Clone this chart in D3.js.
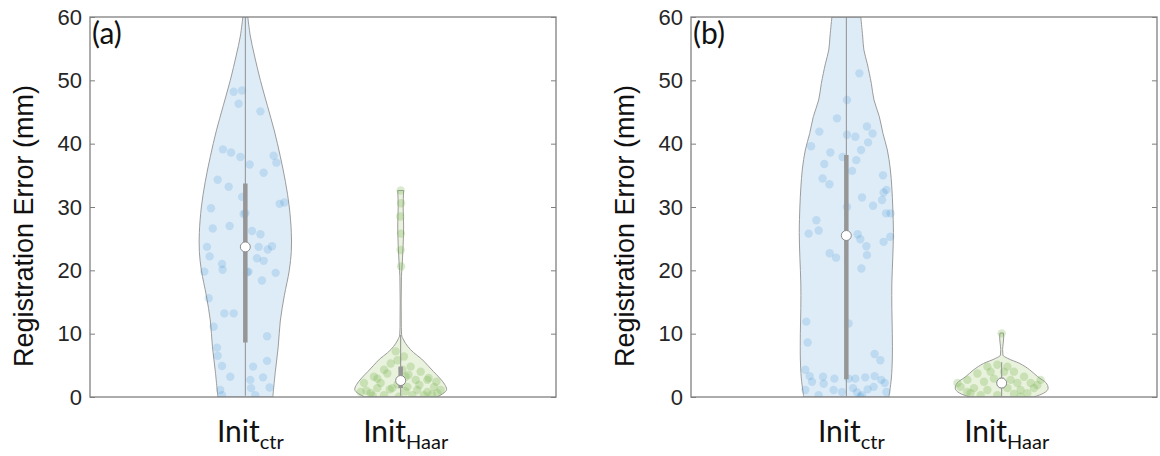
<!DOCTYPE html>
<html>
<head>
<meta charset="utf-8">
<script src="https://cdn.jsdelivr.net/npm/d3@7/dist/d3.min.js"></script>
<style>
  body { margin: 0; background: #fff; }
</style>
</head>
<body>
<div id="chart"></div>
<script>
// 数据：刻度、类别
const yTicks = [0, 10, 20, 30, 40, 50, 60];
const groupNames = ["ctr", "Haar"];
const panelLabels = ["(a)", "(b)"];

// 小提琴轮廓：[误差值 mm, 半宽 (类别单位)]
const aCtrShape = [[0,0.177],[4,0.193],[8,0.212],[12,0.225],[16,0.251],[20,0.283],[23,0.296],[26,0.296],[30,0.283],[34,0.258],[38,0.225],[42,0.187],[46,0.142],[50,0.097],[54,0.058],[57,0.032],[60,0.016]];
const aHaarShape = [[0,0.232],[0.5,0.270],[1.2,0.296],[2,0.283],[3,0.251],[4,0.212],[5,0.174],[6,0.135],[7,0.084],[8,0.045],[9,0.019],[9.8,0.006],[11,0.004],[15,0.003],[19,0.005],[21,0.010],[24,0.016],[27,0.019],[30,0.016],[32.6,0.019]];
const bCtrShape = [[0,0.274],[1,0.280],[3,0.290],[6,0.296],[10,0.296],[14,0.293],[18,0.293],[22,0.299],[26,0.303],[30,0.299],[33,0.293],[36,0.283],[39,0.264],[41.6,0.236],[44.3,0.212],[46.9,0.178],[49.5,0.161],[52.6,0.135],[54.8,0.113],[57,0.105],[60,0.093]];
const bHaarShape = [[0,0.206],[0.6,0.270],[1.4,0.299],[2.2,0.287],[3.2,0.232],[4.3,0.180],[5.3,0.116],[6.1,0.039],[6.6,0.008],[7.5,0.006],[8.5,0.010],[9.5,0.013],[10.1,0.011]];

// 箱线统计：[下须, Q1, 中位数, Q3, 上须]
const aCtrBox = [0.2, 8.6, 23.7, 33.7, 60];
const aHaarBox = [0.2, 1.4, 2.6, 4.8, 9.8];
const bCtrBox = [0.1, 2.8, 25.5, 38.2, 60];
const bHaarBox = [0.1, 1.4, 2.2, 3.05, 5.5];

// 散点：[误差值 mm, 横向抖动]
const aCtrPoints = [[48.2,-0.075],[48.4,-0.021],[46.3,-0.043],[45.1,0.097],[39.1,-0.144],[38.6,-0.092],[37.9,-0.032],[36.7,0.028],[35.4,0.118],[38.1,0.182],
  [37.0,0.200],[34.3,-0.178],[33.2,-0.107],[31.6,-0.021],[29.0,0.0],[30.5,0.221],[30.7,0.251],[29.8,-0.221],[26.6,-0.210],[27.0,-0.101],
  [23.7,-0.247],[22.2,-0.230],[21.0,-0.150],[20.1,-0.146],[26.2,0.043],[25.7,0.097],[23.7,0.086],[23.3,0.144],[23.8,0.172],[21.9,0.075],
  [21.5,0.118],[19.8,0.021],[18.4,0.107],[19.6,0.195],[19.8,-0.264],[15.6,-0.236],[13.2,-0.135],[11.1,-0.204],[7.8,-0.182],[6.5,-0.178],
  [4.9,-0.150],[3.2,-0.097],[0.3,-0.150],[1.1,-0.161],[9.6,0.140],[5.7,0.140],[4.8,0.050],[2.7,0.032],[3.1,0.114],[1.4,0.037],
  [0.3,0.064],[1.5,0.156],[19.7,0.011],[28.9,-0.011],[13.2,-0.075]];
const aHaarPoints = [[32.6,0],[30.6,0.003],[28.5,-0.003],[25.8,0.002],[23.2,0],[20.6,0.003],
  [7.2,-0.032],[6.4,0.021],[5.3,-0.064],[4.3,-0.107],[4.8,0.064],[4.0,0.129],[3.2,-0.172],[2.2,-0.236],[2.2,-0.129],[1.4,-0.054],
  [1.6,0.043],[1.1,0.107],[2.7,0.172],[1.6,0.215],[0.6,-0.193],[0.3,-0.107],[0.05,-0.011],[0.3,0.075],[0.3,0.150],[0.6,0.236],
  [1.4,-0.150],[3.2,0.032],[3.7,-0.086],[0.8,0.172],[0.8,-0.258],[1.1,0.258],[4.3,0.011],[2.7,0.097],
  [2.0,-0.02],[3.5,0.05],[1.0,-0.22],[0.4,0.20],[1.9,0.12],[2.9,-0.15],[0.9,0.03],[5.8,-0.02],[2.4,0.23],[1.2,-0.07],[3.0,0.18],[0.2,-0.18]];
const bCtrPoints = [[51.1,0.084],[46.9,0.004],[44.0,-0.060],[41.9,-0.174],[41.4,0.004],[41.1,0.058],[42.7,0.133],[41.6,0.169],[39.6,-0.227],[38.6,-0.103],
  [39.0,0.095],[40.2,0.140],[37.9,-0.024],[36.8,-0.142],[35.7,0.037],[37.4,0.064],[34.5,-0.153],[33.6,-0.109],[35.0,0.236],[32.7,0.258],
  [32.3,0.240],[31.5,0.101],[31.1,0.230],[30.2,0.172],[29.0,0.256],[29.0,0.285],[27.9,-0.193],[25.8,-0.243],[26.3,-0.178],[25.7,0.073],
  [24.9,0.090],[23.8,0.129],[24.5,0.240],[25.3,0.283],[22.7,-0.107],[22.0,-0.066],[22.4,0.133],[20.3,0.097],[30.0,0.004],[11.9,-0.258],
  [11.6,0.015],[8.6,-0.249],[6.8,0.182],[5.8,0.219],[4.3,-0.264],[3.3,-0.236],[2.4,-0.221],[3.2,-0.150],[2.9,-0.077],[2.9,0.015],
  [2.9,0.058],[3.1,0.122],[3.3,0.182],[2.7,0.225],[2.2,0.247],[2.1,-0.146],[1.1,-0.082],[0.8,-0.028],[1.4,0.043],[1.2,0.137],
  [1.6,0.176],[0.8,0.258],[1.1,-0.264],[0.3,-0.178],[0.3,0.101],[0.7,0.069],[0.05,0.090]];
const bHaarPoints = [[10.05,0],[4.8,-0.092],[5.1,-0.028],[4.8,0.037],[3.7,-0.156],[4.0,0.079],[2.7,-0.221],[2.4,-0.114],[2.9,-0.050],[2.7,0.058],
  [3.2,0.144],[2.2,0.187],[1.9,0.230],[1.6,-0.264],[1.4,-0.178],[1.1,-0.092],[1.4,0.037],[1.1,0.122],[1.4,0.208],[0.6,-0.200],
  [0.3,-0.135],[0.3,-0.028],[0.5,0.079],[0.6,0.165],[2.2,-0.285],[4.0,0.015],[4.0,-0.071],[2.2,0.101],[2.7,0.251],[0.8,-0.221],[0.05,0.122]];

const panels = [
  {label: panelLabels[0], left: 90, groups: [
    {name: groupNames[0], shape: aCtrShape, box: aCtrBox, points: aCtrPoints},
    {name: groupNames[1], shape: aHaarShape, box: aHaarBox, points: aHaarPoints}]},
  {label: panelLabels[1], left: 691, groups: [
    {name: groupNames[0], shape: bCtrShape, box: bCtrBox, points: bCtrPoints},
    {name: groupNames[1], shape: bHaarShape, box: bHaarBox, points: bHaarPoints}]}
];

// 颜色
const fills = ["#deecf8", "#e8f2dc"];
const dotColors = ["rgba(0,114,189,0.14)", "rgba(112,173,71,0.26)"];
const edgeColor = "#9c9c9c";

const W = 1160, H = 456;
const plotW = 466, plotTop = 17, plotBottom = 397;

const svg = d3.select("#chart").append("svg")
  .attr("width", W).attr("height", H)
  .style("font-family", "'Liberation Sans', Arial, sans-serif");

svg.append("rect").attr("width", W).attr("height", H).attr("fill", "#fff");

panels.forEach((p, pi) => {
  const x = d3.scaleLinear().domain([0, 3]).range([p.left, p.left + plotW]);
  const y = d3.scaleLinear().domain([0, 60]).range([plotBottom, plotTop]);

  const clipId = "clip" + pi;
  svg.append("clipPath").attr("id", clipId)
    .append("rect")
    .attr("x", p.left).attr("y", plotTop)
    .attr("width", plotW).attr("height", plotBottom - plotTop);

  const g = svg.append("g").attr("clip-path", `url(#${clipId})`);

  p.groups.forEach((grp, gi) => {
    const c = gi + 1;
    // 小提琴（ctr 用平滑曲线，Haar 用单调曲线避免细颈处过冲）
    const area = d3.area()
      .y(d => y(d[0]))
      .x0(d => x(c - d[1]))
      .x1(d => x(c + d[1]))
      .curve(gi === 0 ? d3.curveCatmullRom.alpha(0.5) : d3.curveMonotoneY);
    g.append("path")
      .datum(grp.shape)
      .attr("d", area)
      .attr("fill", fills[gi])
      .attr("stroke", edgeColor)
      .attr("stroke-width", 1);

    // 散点
    g.selectAll(".dot" + gi)
      .data(grp.points)
      .enter().append("circle")
      .attr("cx", d => x(c + d[1]))
      .attr("cy", d => y(d[0]))
      .attr("r", 4.2)
      .attr("fill", dotColors[gi]);

    const b = grp.box;
    // 须线
    g.append("line")
      .attr("x1", x(c)).attr("x2", x(c))
      .attr("y1", y(b[0])).attr("y2", y(b[4]))
      .attr("stroke", "#8f8f8f").attr("stroke-width", 1);
    // 四分位
    g.append("line")
      .attr("x1", x(c)).attr("x2", x(c))
      .attr("y1", y(b[1])).attr("y2", y(b[3]))
      .attr("stroke", "#969696").attr("stroke-width", 4.5);
    // 中位数
    g.append("circle")
      .attr("cx", x(c)).attr("cy", y(b[2]))
      .attr("r", 5)
      .attr("fill", "#fff")
      .attr("stroke", "#8a8a8a").attr("stroke-width", 1);
  });

  // 坐标轴
  const axL = svg.append("g")
    .attr("transform", `translate(${p.left},0)`)
    .call(d3.axisLeft(y).tickValues(yTicks).tickSize(-5).tickPadding(8));
  axL.select(".domain").remove();
  axL.selectAll(".tick line").attr("stroke", "#7f7f7f");
  axL.selectAll(".tick text")
    .attr("fill", "#262626")
    .style("font-size", "22px")
    .style("font-family", "'Liberation Sans', Arial, sans-serif");

  const axR = svg.append("g")
    .attr("transform", `translate(${p.left + plotW},0)`)
    .call(d3.axisRight(y).tickValues(yTicks).tickSize(-5).tickFormat(""));
  axR.select(".domain").remove();
  axR.selectAll(".tick line").attr("stroke", "#7f7f7f");

  // 边框
  svg.append("rect")
    .attr("x", p.left).attr("y", plotTop)
    .attr("width", plotW).attr("height", plotBottom - plotTop)
    .attr("fill", "none")
    .attr("stroke", "#808080")
    .attr("stroke-width", 1.3);

  // Y轴标题
  svg.append("text")
    .attr("transform", `translate(${p.left - 57},${(plotTop + plotBottom) / 2 + 19}) rotate(-90)`)
    .attr("text-anchor", "middle")
    .attr("fill", "#111")
    .style("font-size", "27px")
    .text("Registration Error (mm)");

  // 面板标签
  svg.append("text")
    .attr("x", p.left + 2).attr("y", 44)
    .attr("fill", "#111")
    .style("font-family", "Lato, 'Open Sans', sans-serif")
    .style("font-size", "30px")
    .text(p.label);

  // X轴类别标签
  p.groups.forEach((grp, gi) => {
    const t = svg.append("text")
      .attr("x", x(gi + 1) + 5).attr("y", 442)
      .attr("text-anchor", "middle")
      .attr("fill", "#111")
      .style("font-family", "Lato, 'Open Sans', sans-serif")
      .style("font-size", "30px");
    t.append("tspan").text("Init");
    t.append("tspan").attr("dy", 7).style("font-size", "20px").text(grp.name);
  });
});
</script>
</body>
</html>
